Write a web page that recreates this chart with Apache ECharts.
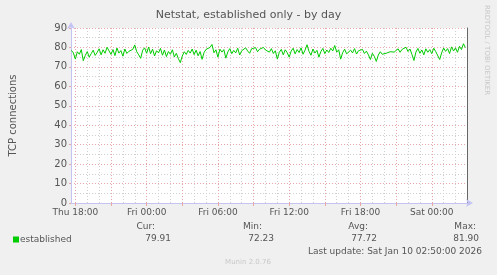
<!DOCTYPE html>
<html><head><meta charset="utf-8">
<script src="https://cdn.jsdelivr.net/npm/echarts@6/dist/echarts.min.js"></script>
<style>html,body{margin:0;padding:0;background:#f0f0f0}#c{width:497px;height:275px}</style>
</head><body><div id="c"></div>
<script>
const TITLE = 'Netstat, established only - by day';
const Y_NAME = 'TCP connections';
const SERIES_NAME = 'established';
const SIDE_TEXT = 'RRDTOOL / TOBI OETIKER';
const FOOTER = 'Munin 2.0.76';
const LAST_UPDATE = 'Last update: Sat Jan 10 02:50:00 2026';
// x in minutes since Thu 00:00
const X_MIN = 1058;
const X_MAX = 3058;
const START_MIN = 1060; // first sample Thu 17:40
const STEP_MIN = 10;
const established = [
78.5,77.2,74.0,77.8,76.5,78.9,73.2,75.8,77.9,75.0,
76.8,78.6,75.9,77.4,79.3,76.2,78.8,77.0,80.1,79.6,
76.4,78.9,75.8,79.7,77.1,78.4,75.5,79.2,76.9,78.0,
77.5,79.0,81.3,77.8,76.2,74.4,78.6,79.8,77.0,80.2,
76.8,79.1,75.6,78.3,77.2,79.5,76.0,78.7,75.3,77.9,
76.5,78.8,75.1,77.0,74.3,72.2,75.6,77.8,76.4,78.5,
77.1,79.2,76.3,78.6,75.7,77.9,73.9,77.4,79.0,78.1,
80.0,81.5,77.3,78.8,75.0,79.1,77.6,78.9,74.5,77.7,
79.4,76.8,78.5,77.2,79.6,76.1,78.3,77.5,79.8,78.2,
77.0,79.3,78.6,79.9,77.8,79.1,78.4,80.0,78.7,79.2,
77.6,79.4,76.9,78.3,74.0,77.5,79.0,76.2,78.8,77.3,
75.0,78.1,79.6,76.7,78.9,77.4,79.8,76.5,78.6,81.4,
78.0,76.0,79.2,77.1,78.5,75.0,77.9,79.5,76.8,78.7,
77.4,79.6,78.2,81.0,77.6,78.8,74.0,77.3,79.1,76.7,
76.0,78.6,77.2,79.4,76.6,78.3,77.5,79.0,76.9,78.1,
76.2,73.8,77.0,75.4,72.8,76.1,77.8,76.5,77.4,77.0,
77.3,77.8,77.1,77.6,78.2,79.3,77.5,79.0,78.4,80.1,
77.9,79.2,76.4,73.3,77.6,79.5,77.0,78.7,76.2,79.3,
77.5,78.9,76.8,79.6,77.9,78.4,73.8,77.2,79.7,78.0,
79.4,76.9,80.3,78.2,79.8,77.5,80.6,78.9,81.9,79.91
];
const xLabelValues = [1080, 1440, 1800, 2160, 2520, 2880];
const xLabelTexts = ['Thu 18:00', 'Fri 00:00', 'Fri 06:00', 'Fri 12:00', 'Fri 18:00', 'Sat 00:00'];
const xMajorValues = [1080, 1260, 1440, 1620, 1800, 1980, 2160, 2340, 2520, 2700, 2880];
const xMinorValues = [1080,1140,1200,1260,1320,1380,1440,1500,1560,1620,1680,1740,1800,1860,1920,1980,2040,2100,2160,2220,2280,2340,2400,2460,2520,2580,2640,2700,2760,2820,2880,2940,3000];
const Y_MIN = 0, Y_MAX = 90, Y_STEP = 10;
const statLabels = ['Cur:', 'Min:', 'Avg:', 'Max:'];
const statValues = ['79.91', '72.23', '77.72', '81.90'];

const FONT = 'DejaVu Sans';
const TXT = '#555';
const RED = '#e8a8a8';
const GREY = '#cfcfcf';
const AXIS = '#c4c4f4';

const seriesData = established.map((v, i) => [START_MIN + i * STEP_MIN, v]);
const labelMap = {};
xLabelValues.forEach((v, i) => { labelMap[v] = xLabelTexts[i]; });

// stat text positions (right edges)
const statLabelRight = [155, 262, 368, 476];
const statValueRight = [171, 274, 377, 479];
const graphics = [];
statLabels.forEach((t, i) => graphics.push({type:'text', x: statLabelRight[i], y: 227,
  style:{text:t, font:'9px "DejaVu Sans"', fill:TXT, textAlign:'right', textVerticalAlign:'middle'}}));
statValues.forEach((t, i) => graphics.push({type:'text', x: statValueRight[i], y: 239,
  style:{text:t, font:'9px "DejaVu Sans"', fill:TXT, textAlign:'right', textVerticalAlign:'middle'}}));
graphics.push({type:'text', x: 482, y: 251.5, style:{text:LAST_UPDATE, font:'9px "DejaVu Sans"', fill:TXT, textAlign:'right', textVerticalAlign:'middle'}});
graphics.push({type:'text', x: 248, y: 262.5, style:{text:FOOTER, font:'7px "DejaVu Sans"', fill:'#c8c8c8', textAlign:'center', textVerticalAlign:'middle'}});
graphics.push({type:'text', x: 487, y: 5, rotation: -Math.PI/2, style:{text:SIDE_TEXT, font:'7px "DejaVu Sans"', fill:'#c8c8c8', textAlign:'left', textVerticalAlign:'middle'}});

const chart = echarts.init(document.getElementById('c'), null, {renderer:'canvas'});
chart.setOption({
  backgroundColor: '#f0f0f0',
  animation: false,
  textStyle: {fontFamily: FONT},
  title: {text: TITLE, left: 'center', top: 10, padding: 0,
    textStyle: {fontFamily: FONT, fontSize: 11, fontWeight: 'normal', color: TXT}},
  legend: {left: 13, top: 235, padding: 0, itemWidth: 6, itemHeight: 6, icon: 'rect',
    data: [SERIES_NAME], textStyle: {fontFamily: FONT, fontSize: 9, color: TXT, padding: [0,0,0,-4]}},
  grid: {left: 67, top: 28, width: 400, height: 175, backgroundColor: '#fff', show: true, borderWidth: 0},
  xAxis: [
    {type: 'value', min: X_MIN, max: X_MAX, position: 'bottom',
      axisLine: {show: false}, axisLabel: {show: false},
      axisTick: {show: false, customValues: xMinorValues},
      splitLine: {show: true, lineStyle: {color: GREY, type: [1, 2], width: 1}}},
    {type: 'value', min: X_MIN, max: X_MAX, position: 'bottom',
      axisLine: {show: true, onZero: false, lineStyle: {color: AXIS, width: 1}, symbol: ['none', 'arrow'], symbolSize: [6, 7], symbolOffset: [0, 6]},
      axisTick: {show: true, customValues: xMajorValues, length: 3, lineStyle: {color: RED}},
      axisLabel: {show: true, customValues: xLabelValues, formatter: v => labelMap[v] || '', fontFamily: FONT, fontSize: 9, color: TXT, margin: 5},
      splitLine: {show: true, lineStyle: {color: RED, type: [1, 2], width: 1}}}
  ],
  yAxis: [
    {type: 'value', min: Y_MIN, max: Y_MAX, interval: Y_STEP, position: 'left',
      name: Y_NAME, nameLocation: 'middle', nameRotate: 90, nameGap: 53,
      nameTextStyle: {fontFamily: FONT, fontSize: 10, color: TXT},
      axisLine: {show: true, onZero: false, lineStyle: {color: AXIS, width: 1}, symbol: ['none', 'arrow'], symbolSize: [6, 7], symbolOffset: [0, 6]},
      axisTick: {show: true, length: 2, lineStyle: {color: RED}},
      axisLabel: {fontFamily: FONT, fontSize: 10, color: TXT, margin: 4},
      minorTick: {show: false, splitNumber: 2},
      minorSplitLine: {show: true, lineStyle: {color: GREY, type: [1, 2], width: 1}},
      splitLine: {show: true, lineStyle: {color: RED, type: [1, 2], width: 1}}},
    {type: 'value', min: Y_MIN, max: Y_MAX, position: 'right',
      axisLine: {show: true, lineStyle: {color: '#666', width: 1}},
      axisTick: {show: false}, axisLabel: {show: false}, splitLine: {show: false}}
  ],
  series: [{
    name: SERIES_NAME, type: 'line', xAxisIndex: 1, yAxisIndex: 0,
    data: seriesData, showSymbol: false, symbol: 'none',
    lineStyle: {color: '#00cc00', width: 1}, itemStyle: {color: '#00cc00'}, z: 5
  }],
  graphic: graphics
});
</script></body></html>
